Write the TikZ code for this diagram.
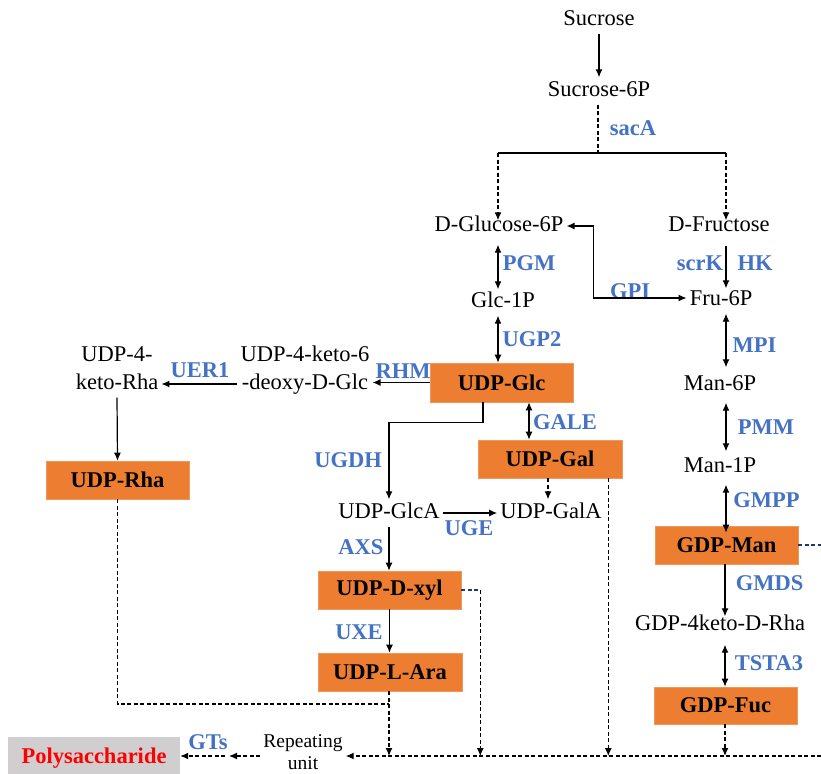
\documentclass[tikz,border=0pt]{standalone}
\usepackage{fontspec}
\setmainfont{Liberation Serif}
\usetikzlibrary{arrows.meta,calc}
\definecolor{lblue}{HTML}{4472C4}
\definecolor{borange}{HTML}{ED7D31}
\definecolor{pgrey}{HTML}{D0CECE}
\definecolor{navyd}{HTML}{203864}
\tikzset{
  txt/.style={inner sep=3pt, align=center, text height=16pt, text depth=5pt, font=\fontsize{22.5}{28}\selectfont},
  lbl/.style={inner sep=1pt, text=lblue, font=\bfseries\fontsize{22.5}{26}\selectfont},
  obox/.style={fill=borange, draw=borange!80!white, line width=0.6pt, minimum width=143pt, minimum height=38pt, inner sep=0pt, font=\bfseries\fontsize{22.5}{26}\selectfont},
  arr/.style={line width=1.2pt, -{Latex[length=8pt,width=7pt]}},
  barr/.style={line width=1.2pt, {Latex[length=8pt,width=7pt]}-{Latex[length=8pt,width=7pt]}},
  dsh/.style={line width=1.1pt, dash pattern=on 4pt off 2.5pt},
}
\begin{document}
\begin{tikzpicture}[x=1pt,y=-1pt]
\useasboundingbox (0,0) rectangle (821,773);
% text nodes
\node[txt] (suc) at (599,20) {Sucrose};
\node[txt] (suc6) at (599,91) {Sucrose-6P};
\node[txt] (glc6) at (499,226) {D-Glucose-6P};
\node[txt] (fru) at (719,226) {D-Fructose};
\node[txt] (glc1) at (503,302) {Glc-1P};
\node[txt] (fru6) at (721,300) {Fru-6P};
\node[txt] (keto6) at (305,384) {UDP-4-keto-6\\-deoxy-D-Glc};
\node[txt] (ketorha) at (117,384) {UDP-4-\\keto-Rha};
\node[txt] (glca) at (389,513) {UDP-GlcA};
\node[txt] (gala) at (551,513) {UDP-GalA};
\node[txt] (man6) at (720,385) {Man-6P};
\node[txt] (man1) at (720,467) {Man-1P};
\node[txt] (keto4) at (720,625) {GDP-4keto-D-Rha};
\node[inner sep=3pt, align=center, font=\fontsize{19.5}{22}\selectfont] (rep) at (303,752) {Repeating\\unit};
% boxes
\node[obox, minimum width=143pt, minimum height=39pt] (udpglc) at (501.5,382.5) {UDP-Glc};
\node[obox] (udprha) at (117.5,480) {UDP-Rha};
\node[obox, minimum width=144pt] (udpgal) at (550,459) {UDP-Gal};
\node[obox] (xyl) at (389.5,590) {UDP-D-xyl};
\node[obox, minimum width=144pt] (ara) at (390,672) {UDP-L-Ara};
\node[obox] (gdpman) at (726.5,545) {GDP-Man};
\node[obox, minimum height=37pt] (fuc) at (725.5,705.5) {GDP-Fuc};
\node[fill=pgrey, minimum width=172pt, minimum height=42pt, inner sep=0pt, text=red, font=\bfseries\fontsize{22.5}{26}\selectfont] (poly) at (94,758) {Polysaccharide};
% labels
\node[lbl] (lsacA) at (633,128) {sacA};
\node[lbl] (lPGM) at (529,263) {PGM};
\node[lbl] (lGPI) at (630,291) {GPI};
\node[lbl] (lscrK) at (700,263) {scrK};
\node[lbl] (lHK) at (755,263) {HK};
\node[lbl] (lUGP) at (532,339) {UGP2};
\node[lbl] (lRHM) at (403,371) {RHM};
\node[lbl] (lUER) at (200,370) {UER1};
\node[lbl] (lUGDH) at (348,460) {UGDH};
\node[lbl] (lGALE) at (565,422) {GALE};
\node[lbl] (lUGE) at (469,528) {UGE};
\node[lbl] (lAXS) at (361,547) {AXS};
\node[lbl] (lUXE) at (359,632) {UXE};
\node[lbl] (lMPI) at (754.5,345) {MPI};
\node[lbl] (lPMM) at (766,427) {PMM};
\node[lbl] (lGMPP) at (766.5,500) {GMPP};
\node[lbl] (lGMDS) at (769.5,583) {GMDS};
\node[lbl] (lTSTA) at (769,663) {TSTA3};
\node[lbl] (lGTs) at (208,742) {GTs};
% coordinates
\coordinate (split) at (598,153);
\coordinate (gbr) at (498,153);
\coordinate (fbr) at (726,153);
\coordinate (rightend) at (821,756);
\coordinate (j1) at (389,704);
\coordinate (mid) at (229,756);
% connectors
\draw[arr] (suc) -- (suc6);
\draw[dsh] (suc6.south -| split) -- (split);
\draw[line width=1.2pt] (gbr) -- (fbr);
\draw[dsh, arr] (gbr) -- ([yshift=-8]gbr |- glc6.north);
\draw[dsh, arr] (fbr) -- ([yshift=-8]fbr |- fru.north);
\draw[barr] ([yshift=-5]gbr |- glc6.south) -- ([yshift=-1]gbr |- glc1.north);
\draw[barr] (gbr |- glc1.south) -- (gbr |- udpglc.north);
\draw[line width=1.2pt, {Latex[length=8pt,width=7pt]}-{Latex[length=8pt,width=7pt]}] (glc6.east) -- ++(27,0) |- ([yshift=2]fru6.west);
\draw[arr] ([yshift=-6]fbr |- fru.south) -- ([yshift=-2]fbr |- fru6.north);
\draw[barr] (fbr |- fru6.south) -- ([yshift=4]fbr |- man6.north);
\draw[barr] ([yshift=-4]fbr |- man6.south) -- ([yshift=2]fbr |- man1.north);
\draw[barr] ([yshift=-4]fbr |- man1.south) -- ([yshift=-7]fbr |- gdpman.north);
\draw[arr] (gdpman.south -| keto4.north) ++(5,0) coordinate (gm) -- ([yshift=-5]gm |- keto4.north);
\draw[barr] ([yshift=-6]gm |- keto4.south) -- (gm |- fuc.north);
\draw[dsh, arr] (fuc.south -| gm) -- (gm |- rightend);
\draw[dsh, navyd] (gdpman.east) -- (gdpman.east -| rightend);
% UDP-Glc branch
\draw[arr] (udpglc.west) -- (keto6.east |- udpglc.west);
\draw[arr] (keto6.west) -- (ketorha.east);
\draw[arr] (ketorha.south) -- (udprha.north);
\draw[arr] ([xshift=-18.5]udpglc.south) -- ++(0,20) -| (glca.north);
\draw[barr] ([xshift=27.5]udpglc.south) coordinate (g1) -- (g1 |- udpgal.north);
\draw[dsh, arr] ([xshift=-2]udpgal.south) -- ([xshift=-2]udpgal.south |- gala.north);
\draw[arr] (glca.east) -- (gala.west);
\draw[arr] (glca.south) -- (glca.south |- xyl.north);
\draw[arr] (xyl.south) -- (xyl.south |- ara.north);
% dashed to repeating unit
\draw[dsh, navyd] (xyl.east) -- ++(19,0) coordinate (x1);
\draw[dsh, arr] (x1) -- (x1 |- rightend);
\draw[dsh, arr] ([xshift=-14]udpgal.south east) -- ([xshift=-14]udpgal.south east |- rightend);
\draw[dsh, arr] (ara.south -| j1) -- (j1 |- rightend);
\draw[dsh] (udprha.south) |- (j1);
\draw[dsh, arr] (rightend) -- (rep.east |- rightend);
\draw[dsh, arr] (rep.west |- mid) -- (mid);
\draw[dsh, arr] ([xshift=-4]mid) -- (poly.east |- mid);
\end{tikzpicture}
\end{document}
